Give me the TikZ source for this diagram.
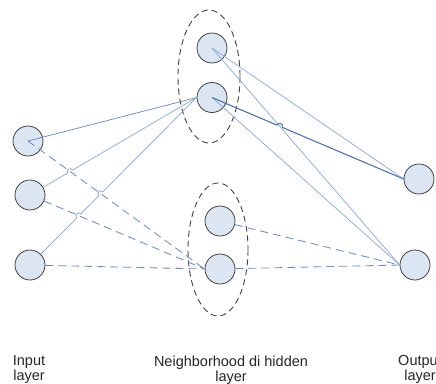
\documentclass[tikz,border=0pt]{standalone}
\usepackage{fontspec}
\setmainfont{Liberation Sans}
\usetikzlibrary{calc,intersections}
\begin{document}
\begin{tikzpicture}[x=1pt,y=-1pt,
  neuron/.style={circle, draw=black!75, line width=0.8pt, fill=nfill, minimum size=30pt, inner sep=0pt},
  group/.style={draw=black!75, line width=0.9pt, dash pattern=on 6pt off 4pt},
  solidlink/.style={draw=lnk, line width=0.7pt},
  stronglink/.style={draw=lnkdark, line width=1.1pt},
  dashlink/.style={draw=lnkdash, line width=0.85pt, dash pattern=on 8pt off 5pt},
  hop/.style={bend left=90, looseness=1.6},
  lbl/.style={font=\fontsize{14.5}{15}\selectfont, align=center, inner sep=0pt, anchor=north, text=black!85}
]
\definecolor{nfill}{HTML}{DCE6F2}
\definecolor{lnk}{HTML}{8AA6D8}
\definecolor{lnkdark}{HTML}{4E74B4}
\definecolor{lnkdash}{HTML}{6B8DC8}
\useasboundingbox (0,0) rectangle (436,383);

% groups
\draw[group] (209,76.5) ellipse [x radius=31, y radius=66.5];
\draw[group] (218,249.5) ellipse [x radius=30, y radius=66.5];

% nodes
\node[neuron] (I1) at (28,141) {};
\node[neuron] (I2) at (30,195) {};
\node[neuron] (I3) at (30,265) {};
\node[neuron] (H1) at (212,48) {};
\node[neuron] (H2) at (212,97.5) {};
\node[neuron] (H3) at (220,221) {};
\node[neuron] (H4) at (220,269) {};
\node[neuron] (O1) at (419,179) {};
\node[neuron] (O2) at (415,265) {};

% dashed links
\draw[dashlink, name path=dA] (I1.center) -- (H4.west);
\draw[dashlink, name path=dB] (I2) -- (H4.west);
\draw[dashlink] (I3) -- (H4.west);
\draw[dashlink] (H3) -- (O2.west);
\draw[dashlink] (H4) -- (O2.west);

% solid links
\draw[solidlink, draw=lnkdark!85] (I1.center) -- (H2.west);
\draw[solidlink, name path=sH1O2] (H1.center) -- (O2.west);
\draw[solidlink] (H1.center) -- (O1.west);
\draw[solidlink] (H2.center) -- (O2.west);

% hidden helper paths for crossings
\path[name path=sB] (I2.center) -- (H2.west);
\path[name path=sC] (I3.center) -- (H2.west);
\path[name path=sH2O1] (H2.center) -- (O1.west);
\path[name intersections={of=sB and dA, by=xa}];
\path[name intersections={of=sC and dA, by=xb}];
\path[name intersections={of=sC and dB, by=xc}];
\path[name intersections={of=sH2O1 and sH1O2, by=xd}];

% solid links with line jumps
\draw[solidlink] (I2) -- ($(xa)!3pt!(I2)$) to[hop] ($(xa)!3pt!(H2.west)$) -- (H2.west);
\draw[solidlink] (I3) -- ($(xc)!3pt!(I3)$) to[hop] ($(xc)!3pt!(H2.west)$)
  -- ($(xb)!3pt!(I3)$) to[hop] ($(xb)!3pt!(H2.west)$) -- (H2.west);
\draw[stronglink] (H2.center) -- ($(xd)!3pt!(H2)$) to[hop] ($(xd)!3pt!(O1.west)$) -- (O1.west);

% labels
\node[lbl] (Lin) at (29,355.5) {Input\\layer};
\node[lbl] (Lhid) at (231,355.5) {Neighborhood di hidden\\layer};
\node[lbl] (Lout) at (420,355.5) {Output\\layer};
\end{tikzpicture}
\end{document}
